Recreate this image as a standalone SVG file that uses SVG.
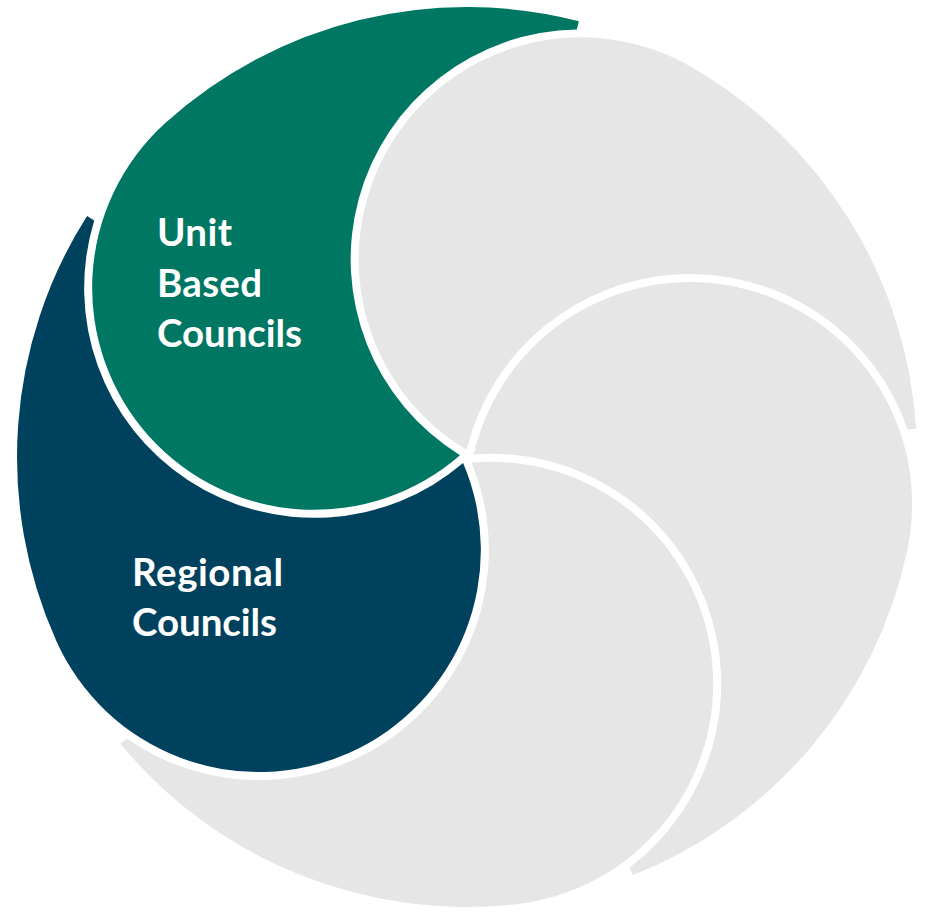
<svg xmlns="http://www.w3.org/2000/svg" xmlns:xlink="http://www.w3.org/1999/xlink" width="934" height="912" viewBox="0 0 934 912">
  <style>
    .green { fill: #007762; }
    .navy  { fill: #00425E; }
    .grey  { fill: #E6E6E6; }
    .label { fill: #FFFFFF; font-family: Lato, "Open Sans", "Liberation Sans", sans-serif; font-weight: 700; font-size: 38.5px; }
  </style>
  <defs>
    <!-- One swirl petal in local coordinates: origin at the swirl centre, belly disc centred on +x.
         Belly arc (r 222, centre 228,0), outer rim arc (r 450), radial tail cut at 56.5deg,
         then the concave edge left by the next petal's belly (r 230, centre at 72deg). -->
    <path id="petal" d="M 6.04 -3.95
                        A 222 222 0 0 1 228 -222
                        A 222 222 0 0 1 450 0
                        A 450 450 0 0 1 248.4 375.2
                        L 243.68 368.15
                        A 230 230 0 0 0 6.04 -3.95 Z"/>
  </defs>

  <g id="petal-unit-based-councils">
    <use xlink:href="#petal" href="#petal" class="green" transform="translate(467 457) rotate(-132.1)"/>
    <text class="label" x="157" y="246" textLength="75">Unit</text>
    <text class="label" x="157" y="297" textLength="105">Based</text>
    <text class="label" x="157" y="347" textLength="145">Councils</text>
  </g>

  <g id="petal-top-right">
    <use xlink:href="#petal" href="#petal" class="grey" transform="translate(467 457) rotate(-60.1)"/>
  </g>

  <g id="petal-bottom-right">
    <use xlink:href="#petal" href="#petal" class="grey" transform="translate(467 457) rotate(11.9)"/>
  </g>

  <g id="petal-bottom-left">
    <use xlink:href="#petal" href="#petal" class="grey" transform="translate(467 457) rotate(83.9)"/>
  </g>

  <g id="petal-regional-councils">
    <use xlink:href="#petal" href="#petal" class="navy" transform="translate(467 457) rotate(155.9)"/>
    <text class="label" x="132" y="586" textLength="151">Regional</text>
    <text class="label" x="132" y="636" textLength="145">Councils</text>
  </g>

  <g id="connectors"></g>
</svg>
